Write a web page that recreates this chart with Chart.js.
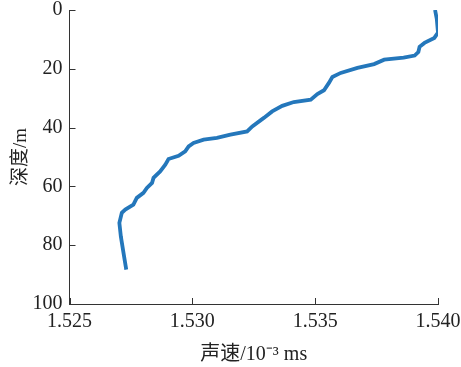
<!DOCTYPE html>
<html>
<head>
<meta charset="utf-8">
<script src="https://cdn.jsdelivr.net/npm/chart.js@4/dist/chart.umd.min.js"></script>
<style>
    html, body { margin: 0; padding: 0; background: #ffffff; }
    #wrap { width: 461px; height: 367px; }
</style>
</head>
<body>
<div id="wrap"><canvas id="profileChart" width="461" height="367"></canvas></div>
<script>
// Sound speed profile
const depthValues = [0, 3, 7.7, 9.5, 11.2, 12.5, 14.3, 15.5, 16.2, 16.9, 18.4, 19.7, 21.4, 22.8, 24.8,
    27.3, 28.6, 30.5, 31.3, 32.6, 34.5, 36.7, 39.6, 41.3, 42.4, 43.5, 44.1, 45.2, 46.4, 48.1,
    49.6, 50.7, 52.6, 54.9, 57.1, 58.8, 60.5, 62.2, 63.9, 66.2, 67.9, 69.0, 72.4, 77.0, 82.7, 88.3];
const speedValues = [1.53988, 1.53995, 1.54, 1.53985, 1.53945, 1.53925, 1.5392, 1.53905, 1.5386, 1.53781,
    1.5374, 1.53672, 1.53604, 1.5357, 1.53556, 1.53536, 1.53509, 1.53482, 1.53413, 1.53366,
    1.53325, 1.53291, 1.53244, 1.53223, 1.53155, 1.531, 1.53046, 1.53005, 1.52985, 1.52971,
    1.52944, 1.52903, 1.5289, 1.52869, 1.52842, 1.52836, 1.52815, 1.52801, 1.52774, 1.5276,
    1.52727, 1.52713, 1.52703, 1.52709, 1.5272, 1.52731];
const xTickValues = [1.525, 1.530, 1.535, 1.540];
const yTickValues = [0, 20, 40, 60, 80, 100];
const xTitle = "声速/10⁻³ ms";
const yTitle = "深度/m";

const fontFamily = '"Liberation Serif", "Times New Roman", "Noto Sans CJK SC", serif';
const axisColor = "#333333";

// draw short ticks pointing into the plot, like the original figure
const inwardTicks = {
    id: "inwardTicks",
    afterDraw(chart) {
        const ctx = chart.ctx;
        const xs = chart.scales.x;
        const ys = chart.scales.y;
        ctx.save();
        ctx.strokeStyle = axisColor;
        ctx.lineWidth = 1;
        ctx.beginPath();
        xTickValues.forEach(v => {
            const px = Math.round(xs.getPixelForValue(v)) + 0.5;
            ctx.moveTo(px, ys.bottom);
            ctx.lineTo(px, ys.bottom - 6);
        });
        yTickValues.forEach(v => {
            const py = Math.round(ys.getPixelForValue(v)) + 0.5;
            ctx.moveTo(xs.left, py);
            ctx.lineTo(xs.left + 6, py);
        });
        ctx.stroke();
        ctx.restore();
    }
};

const ctx = document.getElementById("profileChart").getContext("2d");

new Chart(ctx, {
    type: "line",
    data: {
        datasets: [{
            data: speedValues.map((s, i) => ({ x: s, y: depthValues[i] })),
            borderColor: "#2477bb",
            borderWidth: 3.8,
            pointRadius: 0,
            tension: 0,
            fill: false
        }]
    },
    options: {
        responsive: false,
        animation: false,
        layout: { padding: { left: 0, right: 23, top: 10, bottom: 0 } },
        plugins: {
            legend: { display: false },
            tooltip: { enabled: false }
        },
        scales: {
            x: {
                type: "linear",
                min: 1.525,
                max: 1.540,
                afterBuildTicks: scale => { scale.ticks = xTickValues.map(v => ({ value: v })); },
                afterFit: scale => {
                    scale.height = 63;
                    scale.paddingLeft = 0;
                    scale.paddingRight = 0;
                },
                grid: { drawOnChartArea: false, drawTicks: false },
                border: { color: axisColor, width: 1 },
                ticks: {
                    padding: 6,
                    color: "#222222",
                    font: { family: fontFamily, size: 20 },
                    callback: v => v.toFixed(3),
                    maxRotation: 0
                },
                title: {
                    display: true,
                    text: xTitle,
                    color: "#222222",
                    font: { family: fontFamily, size: 20 },
                    padding: { top: 2, bottom: 0 }
                }
            },
            y: {
                type: "linear",
                reverse: true,
                min: 0,
                max: 100,
                afterBuildTicks: scale => { scale.ticks = yTickValues.map(v => ({ value: v })); },
                afterFit: scale => {
                    scale.width = 69.5;
                    scale.paddingTop = 0;
                    scale.paddingBottom = 0;
                },
                grid: { drawOnChartArea: false, drawTicks: false },
                border: { color: axisColor, width: 1 },
                ticks: {
                    padding: 7,
                    color: "#222222",
                    font: { family: fontFamily, size: 20 }
                },
                title: {
                    display: true,
                    text: yTitle,
                    color: "#222222",
                    font: { family: fontFamily, size: 19 },
                    padding: { top: 10, bottom: 0 }
                }
            }
        }
    },
    plugins: [inwardTicks]
});
</script>
</body>
</html>
